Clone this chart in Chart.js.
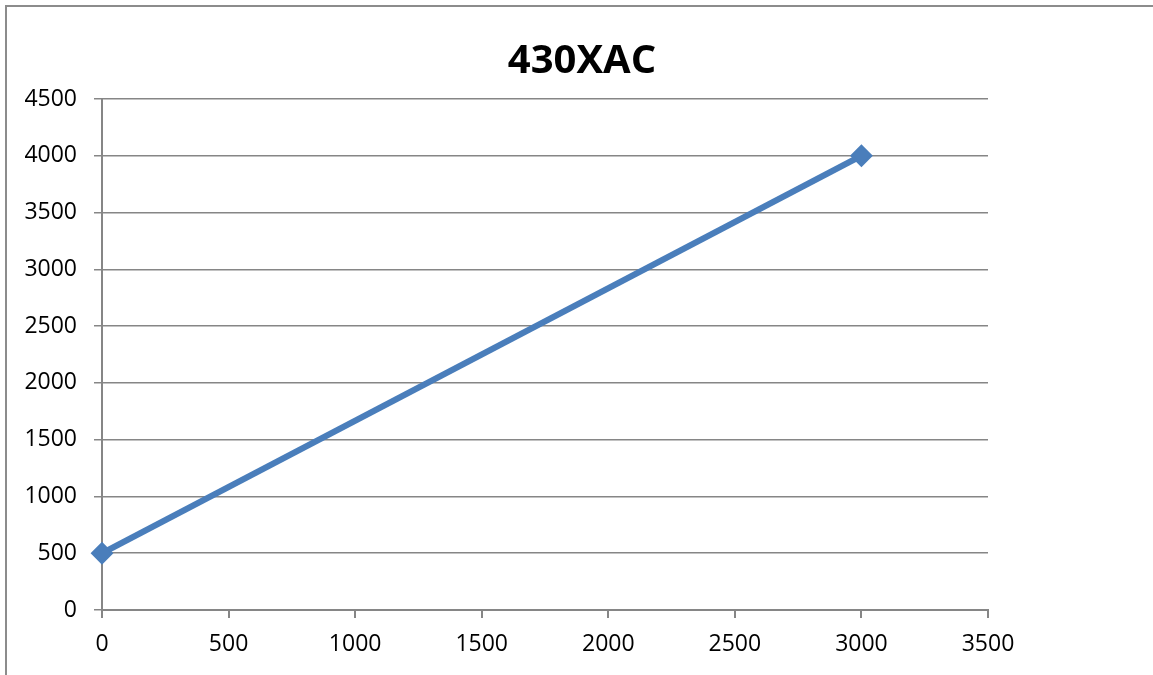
<!DOCTYPE html>
<html>
<head>
<meta charset="utf-8">
<script src="https://cdn.jsdelivr.net/npm/chart.js@4/dist/chart.umd.min.js"></script>
<style>
  html, body { margin: 0; padding: 0; background: #fff; }
  #wrap { position: relative; width: 1153px; height: 675px; overflow: hidden; }
  #frame { position: absolute; left: 5px; top: 5px; width: 1200px; height: 800px;
           border-left: 2px solid #8c8c8c; border-top: 2px solid #8c8c8c; pointer-events: none; }
  canvas { position: absolute; left: 0; top: 0; }
</style>
</head>
<body>
<div id="wrap">
  <canvas id="c" width="1153" height="675"></canvas>
  <div id="frame"></div>
</div>
<script>
const chartTitle = "430XAC";
const xValues = [0, 3000];
const yValues = [500, 4000];
const xTicks = [0, 500, 1000, 1500, 2000, 2500, 3000, 3500];
const yTicks = [0, 500, 1000, 1500, 2000, 2500, 3000, 3500, 4000, 4500];

const points = xValues.map((x, i) => ({ x: x, y: yValues[i] }));
const gray = "#868686";
const fam = "'Open Sans', 'Noto Sans', sans-serif";
const font = { family: fam, size: 23 };

const titlePlugin = {
  id: "pageTitle",
  afterDraw(chart) {
    const ctx = chart.ctx;
    ctx.save();
    ctx.fillStyle = "#000";
    ctx.font = "bold 40px " + fam;
    ctx.textAlign = "center";
    ctx.textBaseline = "alphabetic";
    ctx.fillText(chartTitle, 582, 73);
    ctx.restore();
  }
};

new Chart(document.getElementById("c"), {
  type: "scatter",
  data: {
    datasets: [{
      data: points,
      showLine: true,
      clip: false,
      borderColor: "#4a7ebb",
      backgroundColor: "#4a7ebb",
      borderWidth: 6,
      pointStyle: "rectRot",
      pointRadius: 10,
      pointHoverRadius: 10,
      pointBorderWidth: 2,
      pointHoverBorderWidth: 2
    }]
  },
  plugins: [titlePlugin],
  options: {
    responsive: false,
    animation: false,
    devicePixelRatio: 1,
    layout: { padding: { left: 0, right: 165, top: 99, bottom: 0 } },
    plugins: {
      legend: { display: false },
      tooltip: { enabled: false },
      title: { display: false }
    },
    scales: {
      x: {
        type: "linear",
        min: 0, max: 3500,
        afterBuildTicks: s => { s.ticks = xTicks.map(v => ({ value: v })); },
        afterFit: s => { s.height = 65; },
        ticks: { color: "#000", font: font, padding: 13, maxRotation: 0, callback: v => String(v) },
        grid: { drawOnChartArea: false, drawTicks: true, tickLength: 8, color: gray, lineWidth: 2 },
        border: { display: true, color: gray, width: 2 }
      },
      y: {
        type: "linear",
        min: 0, max: 4500,
        afterBuildTicks: s => { s.ticks = yTicks.map(v => ({ value: v })); },
        afterFit: s => { s.width = 102; },
        ticks: { color: "#000", font: font, padding: 17, callback: v => String(v) },
        grid: { drawTicks: true, tickLength: 8, color: gray, lineWidth: 1.5 },
        border: { display: true, color: gray, width: 2 }
      }
    }
  }
});
</script>
</body>
</html>
